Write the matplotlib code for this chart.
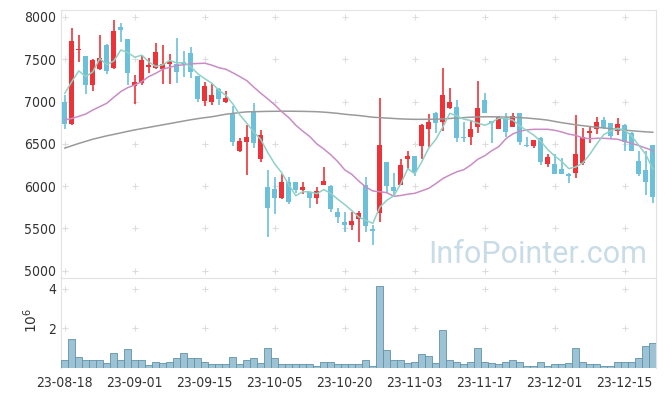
import matplotlib
matplotlib.use('Agg')
import matplotlib.pyplot as plt
import numpy as np

# daily candles (trading-day index 0..84)
opens = [6990, 6730, 7605, 7540, 7200, 7380, 7670, 7400, 7880, 7740,
         7180, 7215, 7410, 7400, 7385, 7440, 7445, 7470, 7570, 7300,
         7005, 6990, 7150, 6990, 6860, 6410, 6525, 6890, 6325, 5995,
         5965, 5855, 6055, 6045, 5955, 5930, 5855, 6015, 6000, 5700,
         5575, 5540, 5615, 6015, 5495, 5680, 6280, 5995, 6015, 6320,
         6355, 6475, 6675, 6870, 6760, 6920, 6940, 6585, 6580, 6700,
         7020, 6765, 6680, 6805, 6705, 6860, 6490, 6480, 6575, 6260,
         6260, 6205, 6145, 6150, 6270, 6630, 6680, 6785, 6745, 6650,
         6725, 6625, 6300, 6190, 6490]
highs = [7080, 7866, 7790, 7540, 7500, 7790, 7680, 7965, 7930, 7740,
         7310, 7550, 7520, 7690, 7670, 7560, 7750, 7600, 7650, 7300,
         7235, 7205, 7160, 7120, 6950, 6575, 6720, 6980, 6660, 6190,
         6105, 6140, 6110, 6050, 6055, 5935, 5995, 6230, 6010, 5745,
         5700, 5700, 5705, 6105, 5540, 7040, 6280, 6160, 6320, 6420,
         6360, 6730, 6855, 6875, 7395, 7155, 7020, 6760, 6770, 7245,
         7100, 6770, 6830, 6870, 6870, 6870, 6585, 6550, 6580, 6380,
         6380, 6330, 6150, 6840, 6690, 6705, 6815, 6815, 6750, 6805,
         6730, 6635, 6410, 6410, 6490]
lows = [6670, 6727, 7470, 7090, 7130, 7370, 7320, 7390, 7700, 7200,
        6975, 7200, 7335, 7390, 7210, 7205, 7215, 7290, 7275, 6990,
        6950, 6960, 6965, 6980, 6475, 6405, 6130, 6450, 6280, 5405,
        5670, 5850, 5785, 5915, 5905, 5740, 5790, 6010, 5690, 5560,
        5460, 5480, 5345, 5460, 5300, 5580, 5915, 5875, 6010, 6190,
        6115, 6320, 6460, 6630, 6650, 6910, 6525, 6525, 6490, 6630,
        6860, 6505, 6675, 6585, 6700, 6490, 6460, 6455, 6250, 6230,
        6140, 6140, 6035, 6095, 6250, 6505, 6615, 6680, 6565, 6605,
        6410, 6410, 6115, 5895, 5805]
closes = [6730, 7715, 7620, 7200, 7490, 7510, 7360, 7835, 7850, 7340,
          7230, 7490, 7430, 7585, 7440, 7480, 7345, 7445, 7345, 7030,
          7185, 7080, 7030, 7045, 6525, 6535, 6580, 6515, 6605, 5745,
          5865, 6055, 5815, 5955, 5985, 5855, 5945, 6060, 5725, 5640,
          5540, 5590, 5680, 5530, 5465, 6490, 6000, 5945, 6250, 6355,
          6170, 6725, 6760, 6750, 7080, 6990, 6575, 6565, 6670, 6920,
          6870, 6745, 6815, 6645, 6830, 6525, 6470, 6545, 6280, 6340,
          6145, 6145, 6125, 6380, 6580, 6650, 6755, 6685, 6595, 6735,
          6525, 6415, 6145, 6055, 5875]
# volume, millions of shares
volumes = [0.39, 1.48, 0.57, 0.39, 0.39, 0.42, 0.24, 0.77, 0.39, 0.97,
           0.39, 0.39, 0.13, 0.32, 0.24, 0.32, 0.52, 0.77, 0.52, 0.52,
           0.32, 0.18, 0.18, 0.18, 0.57, 0.18, 0.39, 0.52, 0.24, 1.02,
           0.52, 0.22, 0.22, 0.22, 0.18, 0.18, 0.12, 0.29, 0.29, 0.18,
           0.22, 0.22, 0.22, 0.39, 0.12, 4.12, 0.92, 0.39, 0.42, 0.24,
           0.29, 0.72, 0.62, 0.24, 1.93, 0.39, 0.32, 0.18, 0.32, 1.02,
           0.32, 0.24, 0.18, 0.32, 0.39, 0.32, 0.12, 0.12, 0.29, 0.12,
           0.18, 0.18, 0.24, 1.02, 0.32, 0.22, 0.22, 0.12, 0.12, 0.29,
           0.32, 0.32, 0.49, 1.08, 1.23]
# moving averages as drawn
ma5 = [7098, 7236, 7362, 7295, 7351, 7507, 7436, 7479, 7609, 7579,
       7523, 7549, 7468, 7415, 7435, 7485, 7456, 7459, 7411, 7329,
       7270, 7217, 7134, 7074, 6973, 6843, 6743, 6640, 6552, 6396,
       6262, 6157, 6017, 5887, 5935, 5933, 5911, 5960, 5914, 5845,
       5782, 5711, 5635, 5596, 5561, 5751, 5833, 5886, 6030, 6208,
       6144, 6289, 6452, 6552, 6697, 6861, 6831, 6792, 6776, 6744,
       6720, 6754, 6804, 6799, 6781, 6712, 6657, 6603, 6530, 6432,
       6356, 6291, 6207, 6227, 6275, 6376, 6498, 6610, 6653, 6684,
       6659, 6591, 6483, 6375, 6203]
ma20 = [6783, 6800, 6825, 6853, 6900, 6940, 6980, 7050, 7118, 7165,
        7196, 7236, 7295, 7334, 7382, 7405, 7425, 7435, 7445, 7450,
        7453, 7430, 7400, 7382, 7340, 7295, 7247, 7170, 7098, 7031,
        6960, 6880, 6810, 6720, 6650, 6586, 6500, 6440, 6370, 6290,
        6192, 6140, 6060, 5990, 5943, 5935, 5923, 5880, 5890, 5905,
        5916, 5945, 5975, 6030, 6090, 6132, 6170, 6195, 6250, 6318,
        6360, 6420, 6467, 6560, 6617, 6650, 6665, 6672, 6672, 6672,
        6660, 6640, 6615, 6600, 6570, 6560, 6566, 6566, 6560, 6554,
        6530, 6505, 6480, 6450, 6420]
ma60 = [6450, 6478, 6505, 6530, 6555, 6575, 6595, 6612, 6630, 6648,
        6665, 6680, 6695, 6710, 6725, 6740, 6755, 6770, 6785, 6798,
        6810, 6820, 6835, 6850, 6860, 6870, 6878, 6880, 6882, 6884,
        6885, 6886, 6886, 6885, 6884, 6882, 6880, 6875, 6868, 6860,
        6850, 6842, 6835, 6825, 6815, 6810, 6805, 6800, 6795, 6792,
        6790, 6790, 6790, 6792, 6795, 6800, 6805, 6810, 6815, 6818,
        6820, 6820, 6818, 6816, 6814, 6810, 6805, 6798, 6790, 6780,
        6765, 6750, 6738, 6725, 6715, 6705, 6695, 6688, 6680, 6670,
        6662, 6655, 6648, 6642, 6637]
tick_pos = [0, 10, 20, 30, 40, 50, 60, 70, 80]
tick_labels = ['23-08-18', '23-09-01', '23-09-15', '23-10-05', '23-10-20',
               '23-11-03', '23-11-17', '23-12-01', '23-12-15']
price_ticks = [5000, 5500, 6000, 6500, 7000, 7500, 8000]

UP = '#ee3338'
DOWN = '#6cc0da'
FRAME = '#e2e2e2'
TXT = '#333333'


def style(ax):
    for s in ax.spines.values():
        s.set_color(FRAME)
    ax.tick_params(length=0, colors=TXT, labelsize=10)
    for lab in ax.get_xticklabels() + ax.get_yticklabels():
        lab.set_fontstretch('condensed')


fig = plt.figure(figsize=(6.65, 3.96), dpi=100)
ax = fig.add_axes([0.0922, 0.298, 0.8947, 0.677])
axv = fig.add_axes([0.0922, 0.071, 0.8947, 0.227])

x = np.arange(len(closes))
o = np.array(opens)
c = np.array(closes)
colors = [UP if cc >= oo else DOWN for oo, cc in zip(o, c)]

ax.vlines(x, lows, highs, colors=colors, linewidth=1.2, zorder=3)
ax.bar(x, np.maximum(np.abs(c - o), 12), bottom=np.minimum(o, c), width=0.72,
       color=colors, linewidth=0, zorder=4)
ax.plot(x, ma60, color='#9a9a9a', linewidth=1.1, zorder=5)
ax.plot(x, ma20, color='#c98cc4', linewidth=1.1, zorder=5)
ax.plot(x, ma5, color='#8fd1c6', linewidth=1.1, zorder=5)

# cross markers at grid intersections
gx, gy = np.meshgrid(tick_pos, price_ticks)
ax.scatter(gx.ravel(), gy.ravel(), marker='+', s=18, color='#dddddd', linewidths=0.8, zorder=1)

ax.set_xlim(-0.5, 84.5)
ax.set_ylim(4915, 8083)
ax.set_yticks(price_ticks)
ax.set_xticks([])
ax.text(0.985, 0.055, 'InfoPointer.com', transform=ax.transAxes, ha='right', va='baseline',
        fontsize=22, family='Roboto', color='#c8dce8', zorder=6)
style(ax)

axv.bar(x, volumes, width=1.0, color='#9cc2d3', edgecolor='#5f93ab', linewidth=0.6, zorder=3)
vx, vy = np.meshgrid(tick_pos, [2, 4])
axv.scatter(vx.ravel(), vy.ravel(), marker='+', s=18, color='#dddddd', linewidths=0.8, zorder=1)
axv.set_xlim(-0.5, 84.5)
axv.set_ylim(0, 4.53)
axv.set_yticks([2, 4])
axv.set_xticks(tick_pos)
axv.set_xticklabels(tick_labels)
axv.spines['bottom'].set_visible(False)
style(axv)
axv.tick_params(axis='x', pad=6)
fig.text(0.046, 0.19, '$10^6$', rotation=90, ha='center', va='center', fontsize=10, color=TXT)

fig.savefig('out.png', dpi=100)
